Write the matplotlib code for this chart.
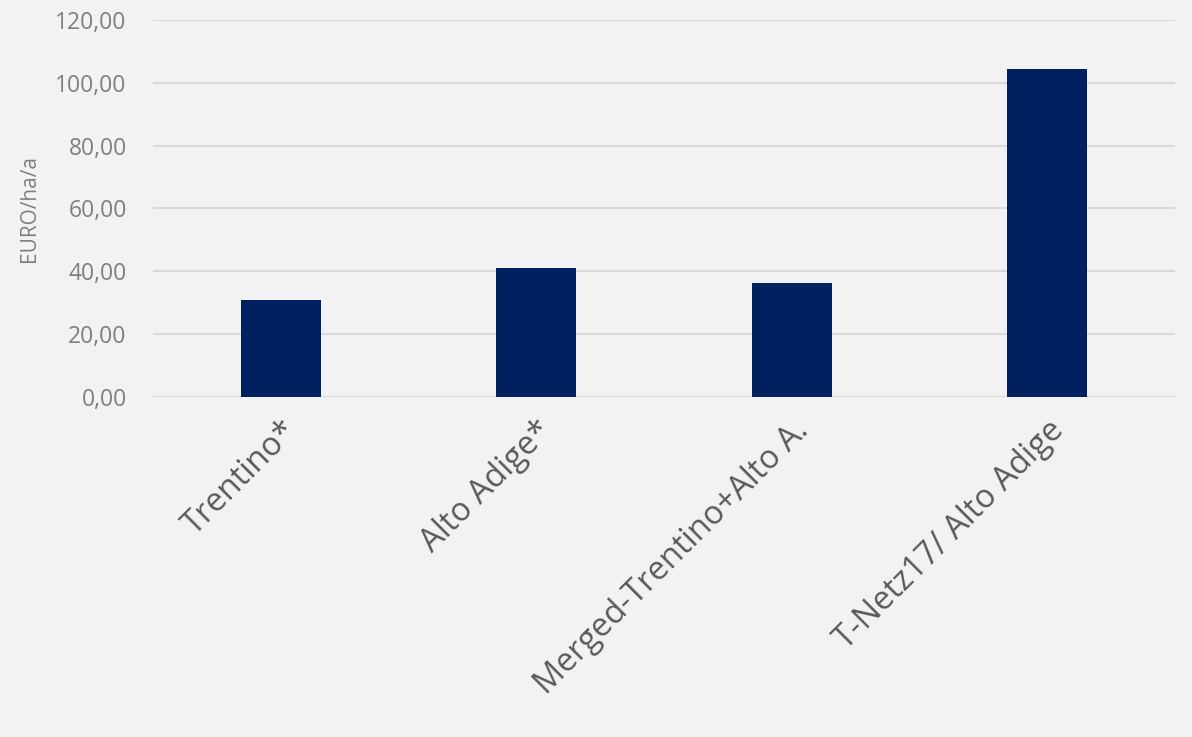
import matplotlib.pyplot as plt
import numpy as np

categories = ["Trentino*", "Alto Adige*", "Merged-Trentino+Alto A.", "T-Netz17/ Alto Adige"]
values = [31.0, 41.0, 36.5, 104.3]
yticks = [0, 20, 40, 60, 80, 100, 120]

plt.rcParams['font.family'] = ['Open Sans', 'DejaVu Sans']

fig = plt.figure(figsize=(11.92, 7.37), dpi=100, facecolor="#F2F2F2")
ax = fig.add_axes([0.1284, 0.4607, 0.8573, 0.5128])
ax.set_facecolor("#F2F2F2")

x = np.arange(len(categories))
ax.bar(x, values, width=0.313, color="#002060", zorder=3)

ax.set_xlim(-0.5, len(categories) - 0.5)
ax.set_ylim(0, 120)
ax.set_yticks(yticks)
ax.set_yticklabels([f"{v:.2f}".replace(".", ",") for v in yticks], color="#7F7F7F", fontsize=16.5)
ax.yaxis.grid(True, color="#D9D9D9", linewidth=1.5, zorder=0)
ax.tick_params(axis="y", length=0, pad=19)
ax.tick_params(axis="x", length=0, pad=12)

ax.set_xticks(x)
ax.set_xticklabels(categories, rotation=45, ha="right", rotation_mode="anchor",
                   fontsize=23.5, color="#595959")

ax.set_ylabel("EURO/ha/a", color="#7F7F7F", fontsize=15, labelpad=11)

for s in ax.spines.values():
    s.set_visible(False)

fig.savefig("out.png", dpi=100, facecolor=fig.get_facecolor())
